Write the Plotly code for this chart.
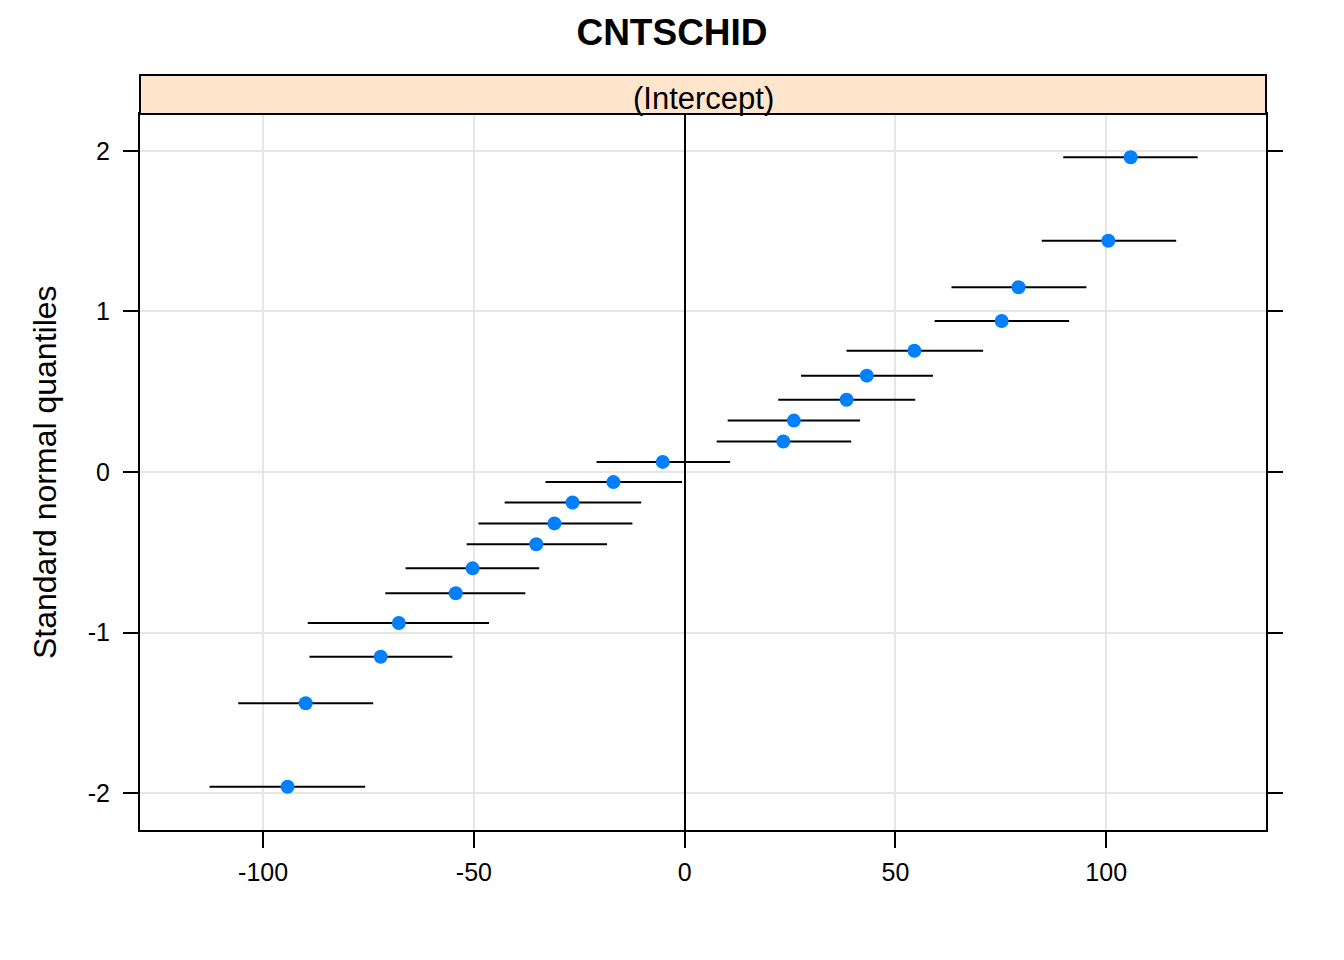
import plotly.graph_objects as go

# Standard normal quantiles (y positions of the schools)
quantiles = [-1.96, -1.44, -1.15, -0.94, -0.755, -0.60, -0.45, -0.32, -0.19, -0.063,
             0.063, 0.19, 0.32, 0.45, 0.60, 0.755, 0.94, 1.15, 1.44, 1.96]
# Random-effect estimates (intercept)
estimate = [-94.2, -89.9, -72.1, -67.8, -54.3, -50.3, -35.2, -30.9, -26.6, -16.9,
            -5.2, 23.4, 25.9, 38.4, 43.2, 54.5, 75.2, 79.2, 100.5, 105.8]
# Interval lower / upper bounds
lower = [-112.7, -105.9, -89.0, -89.4, -71.0, -66.2, -51.7, -48.9, -42.7, -33.0,
         -20.9, 7.6, 10.2, 22.2, 27.6, 38.4, 59.3, 63.3, 84.7, 89.8]
upper = [-75.8, -73.9, -55.1, -46.4, -37.8, -34.5, -18.4, -12.4, -10.3, -0.6,
         10.8, 39.5, 41.6, 54.7, 58.9, 70.8, 91.2, 95.3, 116.6, 121.7]

x_ticks = [-100, -50, 0, 50, 100]
y_ticks = [-2, -1, 0, 1, 2]
title_text = "CNTSCHID"
strip_text = "(Intercept)"
ylab = "Standard normal quantiles"

FONT = "Liberation Sans, Arial, sans-serif"

plus = [u - e for u, e in zip(upper, estimate)]
minus = [e - l for e, l in zip(estimate, lower)]

fig = go.Figure()
fig.add_trace(go.Scatter(
    x=estimate, y=quantiles, mode="markers",
    marker=dict(color="#0080FF", size=14, symbol="circle", line=dict(width=0)),
    error_x=dict(type="data", symmetric=False, array=plus, arrayminus=minus,
                 color="black", thickness=2, width=0),
    showlegend=False, hoverinfo="x+y",
))

W, H = 1344, 960
L, R, T, B = 140, 78, 114, 130
ph = H - T - B
strip_h = 39

fig.update_layout(
    width=W, height=H,
    margin=dict(l=L, r=R, t=T, b=B, autoexpand=False),
    paper_bgcolor="white", plot_bgcolor="white",
    font=dict(family=FONT, color="black"),
    title=dict(text="<b>" + title_text + "</b>", x=0.5, xanchor="center",
               y=1 - 32 / H, yanchor="middle", yref="container",
               font=dict(size=37, family=FONT, color="black")),
    xaxis=dict(range=[-129.2, 137.9], tickvals=x_ticks, ticktext=[str(v) for v in x_ticks],
               showgrid=True, gridcolor="#E6E6E6", gridwidth=2,
               zeroline=True, zerolinecolor="black", zerolinewidth=2,
               showline=True, linecolor="black", linewidth=2, mirror=True,
               ticks="outside", ticklen=16, tickwidth=2, tickcolor="black",
               ticklabelstandoff=3,
               tickfont=dict(size=25, family=FONT, color="black")),
    yaxis=dict(range=[-2.229, 2.229], tickvals=y_ticks, ticktext=[str(v) for v in y_ticks],
               showgrid=True, gridcolor="#E6E6E6", gridwidth=2,
               zeroline=False,
               showline=True, linecolor="black", linewidth=2, mirror="ticks",
               ticks="outside", ticklen=15, tickwidth=2, tickcolor="black",
               ticklabelstandoff=8,
               tickfont=dict(size=25, family=FONT, color="black")),
    shapes=[dict(type="rect", xref="paper", yref="paper", x0=0, x1=1,
                 y0=1, y1=1 + strip_h / ph, fillcolor="#FFE5CC",
                 line=dict(color="black", width=2), layer="above")],
    annotations=[
        dict(text=strip_text, xref="paper", yref="paper", x=0.5,
             y=1 + (strip_h / 2) / ph, xanchor="center", yanchor="middle", yshift=-4,
             showarrow=False, font=dict(size=31, family=FONT, color="black")),
        dict(text=ylab, xref="paper", yref="paper", x=(45 - L) / (W - L - R), y=0.5,
             xanchor="center", yanchor="middle", textangle=-90, showarrow=False,
             font=dict(size=32, family=FONT, color="black")),
    ],
)

fig.write_html("out.html", config={"displayModeBar": False},
               post_script="document.body.style.margin='0';")
